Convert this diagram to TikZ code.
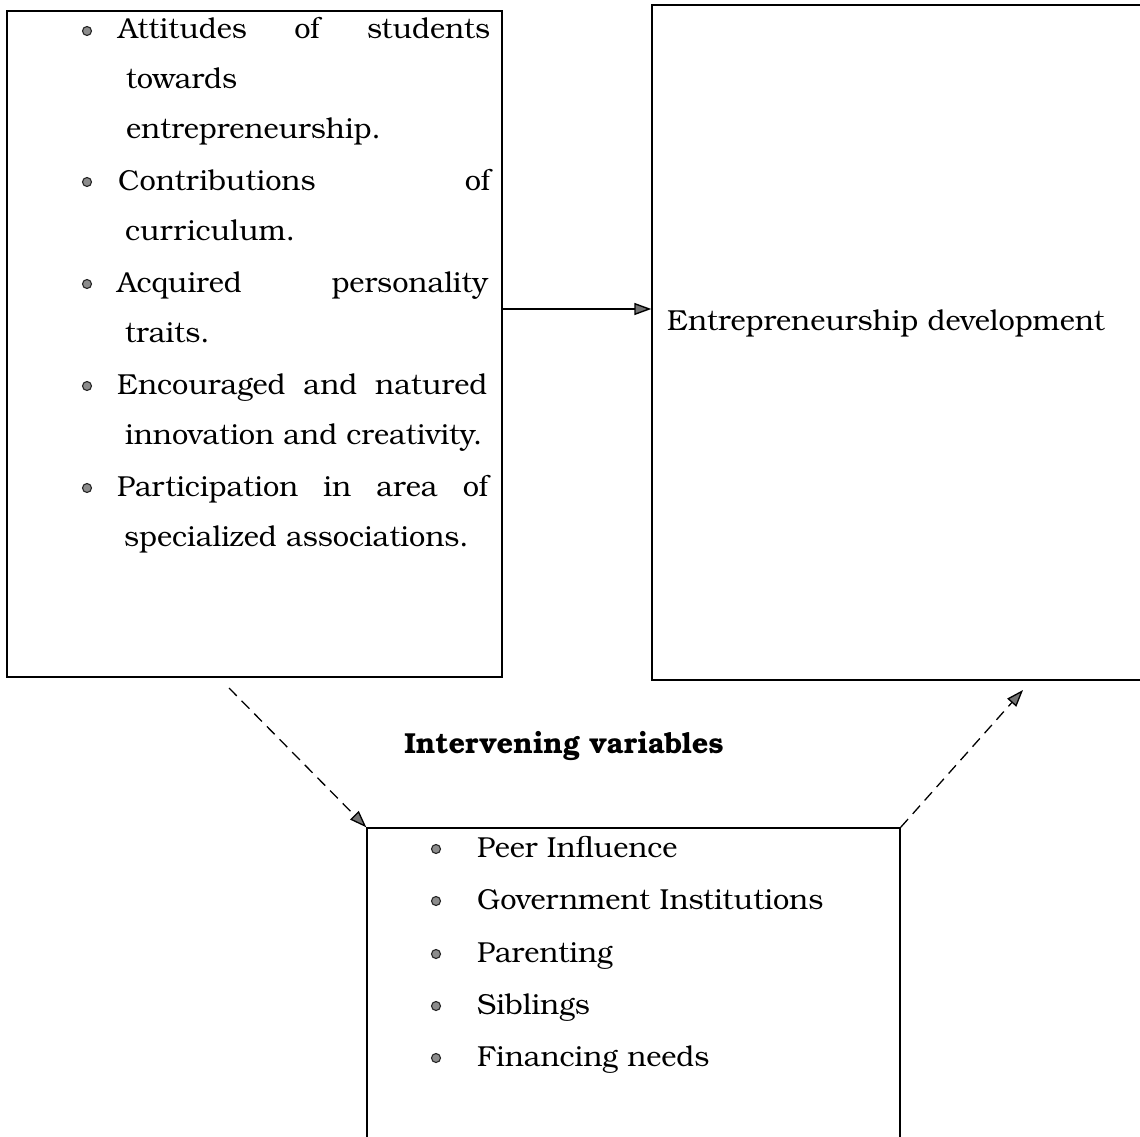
\documentclass[tikz,border=0pt]{standalone}
\usepackage{fontspec}
\setmainfont{texgyrebonum-regular.otf}[BoldFont=texgyrebonum-bold.otf]
\usetikzlibrary{arrows.meta}
\begin{document}
\begin{tikzpicture}[x=1pt,y=-1pt,
  box/.style={draw, line width=1.4pt, inner sep=0, rectangle},
  txt/.style={anchor=base west, inner sep=0, font=\fontsize{28.9}{30}\selectfont},
  bul/.style={circle, draw=black!85, line width=1.1pt, fill=black!45, minimum size=9pt, inner sep=0},
  tip/.style={-{Triangle[length=17pt,width=12pt,fill=black!55]}},
  dsh/.style={dash pattern=on 11pt off 7pt}]
\useasboundingbox (0,0) rectangle (1140,1137);
\fill[white] (0,0) rectangle (1140,1137);
% boxes
\node[box, minimum width=495pt, minimum height=666pt] (left) at (254.5,344) {};
\node[box, minimum width=494pt, minimum height=675pt] (right) at (899,342.5) {};
\node[box, minimum width=533pt, minimum height=330pt] (bot) at (633.5,993) {};
% left box text
\node[txt] (l1) at (118,39) {\hbox to 372pt{Attitudes\hfill of\hfill students}};
\node[txt] (l2) at (126,89) {towards};
\node[txt] (l3) at (126,139) {entrepreneurship.};
\node[txt] (l4) at (118,190) {\hbox to 372pt{Contributions\hfill of}};
\node[txt] (l5) at (125,240) {curriculum.};
\node[txt] (l6) at (117,292) {\hbox to 371pt{Acquired\hfill personality}};
\node[txt] (l7) at (125,342) {traits.};
\node[txt] (l8) at (117,394) {\hbox to 370pt{Encouraged\hfill and\hfill natured}};
\node[txt] (l9) at (125,444) {innovation and creativity.};
\node[txt] (l10) at (117,496) {\hbox to 371pt{Participation\hfill in\hfill area\hfill of}};
\node[txt] (l11) at (124,546) {specialized associations.};
\node[bul] (b1) at (87,31) {};
\node[bul] (b2) at (87,182) {};
\node[bul] (b3) at (87,284) {};
\node[bul] (b4) at (87,386) {};
\node[bul] (b5) at (87,488) {};
% right box text
\node[txt] (ed) at (667,330) {Entrepreneurship development};
% heading
\node[txt, anchor=base, font={\fontsize{28.9}{30}\selectfont\bfseries}] (iv) at (564,753) {Intervening variables};
% bottom box text
\node[txt] (m1) at (477,857) {Peer Influence};
\node[txt] (m2) at (477,909) {Government Institutions};
\node[txt] (m3) at (477,962) {Parenting};
\node[txt] (m4) at (477,1014) {Siblings};
\node[txt] (m5) at (477,1066) {Financing needs};
\node[bul] (c1) at (436,849) {};
\node[bul] (c2) at (436,901) {};
\node[bul] (c3) at (436,954) {};
\node[bul] (c4) at (436,1006) {};
\node[bul] (c5) at (436,1058) {};
% connectors
\coordinate (hy) at (0,309);
\draw[line width=1.4pt, tip] (left.east |- hy) -- (right.west |- hy);
\coordinate (d1) at (229,688);
\draw[line width=1.3pt, dsh, tip] (d1) -- (bot.north west);
\coordinate (d2) at (1023,690);
\draw[line width=1.3pt, dsh, tip] (bot.north east) -- (d2);
\end{tikzpicture}
\end{document}
